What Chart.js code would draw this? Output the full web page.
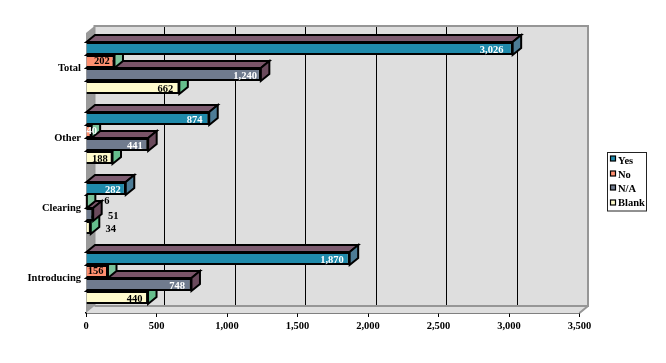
<!DOCTYPE html>
<html><head><meta charset="utf-8">
<style>html,body{margin:0;padding:0;background:#fff}canvas{display:block}</style>
<script src="https://cdn.jsdelivr.net/npm/chart.js@4"></script>
</head><body><canvas id="c" width="666" height="363"></canvas>
<script>
const categories = ['Total', 'Other', 'Clearing', 'Introducing'];
const yesValues = [3026, 874, 282, 1870];
const noValues = [202, 40, 6, 156];
const naValues = [1240, 441, 51, 748];
const blankValues = [662, 188, 34, 440];
const xTicks = [0, 500, 1000, 1500, 2000, 2500, 3000, 3500];

const FONT = '"Liberation Serif", "Times New Roman", serif';
const DX = 8.5, DY = 7;
const styles = [
  {label:'Yes', data:yesValues, front:'#1F8AAB', top:'#7D5C70', side:'#4D7C96', text:'#fff', dy:1.3},
  {label:'No', data:noValues, front:'#FF9070', top:'#7CC49C', side:'#7CC49C', text:'#000', dy:-0.2},
  {label:'N/A', data:naValues, front:'#707B8E', top:'#7A5468', side:'#6A4A5C', text:'#fff', dy:1.3},
  {label:'Blank', data:blankValues, front:'#FFFBCC', top:'#66BE8C', side:'#66BE8C', text:'#000', dy:1.3}
];
function poly(ctx, pts, fill){
  ctx.beginPath();
  pts.forEach((p,i)=> i?ctx.lineTo(p[0],p[1]):ctx.moveTo(p[0],p[1]));
  ctx.closePath();
  ctx.fillStyle = fill; ctx.fill();
  ctx.strokeStyle = '#000'; ctx.lineWidth = 2; ctx.lineJoin='miter'; ctx.stroke();
}
function labelOffset(v){
  if (v === 40) return 0;
  if (v <= 60) return -20;
  return 12 + v * 0.003;
}
const scene = {
  id:'scene',
  afterLayout(chart){
    const l = chart.legend;
    l.left = 606.15; l.right = 650; l.top = 152; l.bottom = 240;
    l.width = 43.85; l.height = 88;
  },
  beforeDatasetsDraw(chart){
    const {ctx, chartArea:a, scales:{x}} = chart;
    ctx.save();
    ctx.fillStyle = '#DEDEDE';
    ctx.fillRect(a.left+DX, a.top-DY, a.width, a.height);
    ctx.beginPath();
    ctx.moveTo(a.left,a.bottom);ctx.lineTo(a.left+DX,a.bottom-DY);ctx.lineTo(a.right+DX,a.bottom-DY);ctx.lineTo(a.right,a.bottom);ctx.closePath();
    ctx.fill();
    ctx.fillStyle = '#9A9A9A';
    ctx.beginPath();
    ctx.moveTo(a.left,a.top);ctx.lineTo(a.left+DX,a.top-DY);ctx.lineTo(a.left+DX,a.bottom-DY);ctx.lineTo(a.left,a.bottom);ctx.closePath();
    ctx.fill();
    ctx.strokeStyle = '#000'; ctx.lineWidth = 1;
    xTicks.slice(1,-1).forEach(v=>{
      const px = Math.floor(x.getPixelForValue(v)+DX-0.5)+0.5;
      ctx.beginPath();ctx.moveTo(px,a.top-DY);ctx.lineTo(px,a.bottom-DY);ctx.stroke();
    });
    ctx.strokeStyle = '#969696'; ctx.lineWidth = 2;
    ctx.beginPath();
    ctx.moveTo(a.left+DX,a.bottom-DY);ctx.lineTo(a.left+DX,a.top-DY);ctx.lineTo(a.right+DX,a.top-DY);ctx.lineTo(a.right+DX,a.bottom-DY);ctx.lineTo(a.left+DX,a.bottom-DY);
    ctx.moveTo(a.right+DX,a.bottom-DY);ctx.lineTo(a.right,a.bottom);
    ctx.stroke();
    ctx.restore();
  },
  beforeDatasetDraw(chart,args){
    const ctx = chart.ctx, st = styles[args.index];
    ctx.save();
    args.meta.data.forEach(el=>{
      const h = el.height/2, t = el.y-h, b = el.y+h, x0 = el.base, x1 = el.x;
      poly(ctx,[[x0,t],[x0+DX,t-DY],[x1+DX,t-DY],[x1,t]],st.top);
      poly(ctx,[[x1,t],[x1+DX,t-DY],[x1+DX,b-DY],[x1,b]],st.side);
    });
    ctx.restore();
  },
  afterDatasetsDraw(chart){
    const ctx = chart.ctx;
    ctx.save();
    ctx.font = 'bold 10.5px '+FONT;
    ctx.textAlign='center'; ctx.textBaseline='middle';
    chart.getSortedVisibleDatasetMetas().forEach(meta=>{
      const st = styles[meta.index];
      meta.data.forEach((el,i)=>{
        const v = st.data[i], off = labelOffset(v);
        ctx.fillStyle = off < 0 ? '#000' : (off === 0 ? '#fff' : st.text);
        ctx.fillText(v.toLocaleString('en-US'), el.x-off, el.y+st.dy);
      });
    });
    ctx.restore();
  },
  afterDraw(chart){
    const ctx = chart.ctx, l = chart.legend;
    ctx.save();
    ctx.strokeStyle='#222'; ctx.lineWidth=1;
    ctx.strokeRect(607.5,152.5,39,58.5);
    l.legendItems.forEach((item,i)=>{
      const cy = 159 + i*14.6;
      ctx.fillStyle = styles[i].front;
      ctx.strokeStyle = '#000'; ctx.lineWidth = 1.2;
      ctx.fillRect(610.5,Math.round(cy)-3,5,5);
      ctx.strokeRect(610.5,Math.round(cy)-3,5,5);
    });
    ctx.restore();
  }
};
new Chart(document.getElementById('c'),{
  type:'bar',
  data:{labels:categories,datasets:styles.map(s=>({label:s.label,data:s.data,backgroundColor:s.front,borderColor:'#000',borderWidth:2,clip:false}))},
  plugins:[scene],
  options:{
    indexAxis:'y',responsive:false,animation:false,
    layout:{padding:{top:33,right:86.5,left:0,bottom:0}},
    datasets:{bar:{barPercentage:1,categoryPercentage:0.743}},
    plugins:{
      tooltip:{enabled:false},
      legend:{position:'chartArea',align:'start',
        labels:{boxWidth:3,boxHeight:3,padding:3.6,color:'#000',font:{family:FONT,weight:'bold',size:10.5},
          generateLabels(chart){
            return chart.data.datasets.map((d,i)=>({text:d.label,fillStyle:'rgba(0,0,0,0)',strokeStyle:'rgba(0,0,0,0)',lineWidth:0,datasetIndex:i,fontColor:'#000'}));
          }}}
    },
    scales:{
      x:{type:'linear',min:0,max:3500,afterBuildTicks(s){s.ticks=xTicks.map(v=>({value:v}));},
        afterFit(s){s.height=50;},
        grid:{drawOnChartArea:false,drawTicks:true,tickLength:4,color:'#000'},
        border:{color:'#000',width:1.5},
        ticks:{padding:3,maxRotation:0,color:'#000',font:{family:FONT,weight:'bold',size:10.5},callback:v=>v.toLocaleString('en-US')}},
      y:{afterFit(s){s.width=86;},
        grid:{drawOnChartArea:false,drawTicks:false},
        border:{color:'#000',width:1},
        ticks:{padding:5,color:'#000',font:{family:FONT,weight:'bold',size:10.5}}}
    }
  }
});
</script></body></html>
